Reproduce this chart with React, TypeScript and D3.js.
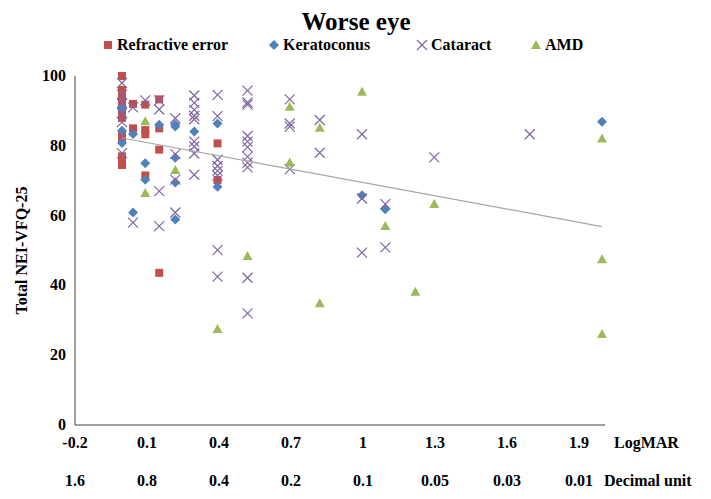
import { useEffect } from "react";
import * as d3 from "d3";

// LogMAR values of the visual acuity steps used in the study
// (decimal 1.0, 0.9, 0.8, 0.7, 0.6, 0.5, 0.4, 0.3, 0.2, 0.15, 0.1, 0.08, 0.06, 0.05, 0.02, 0.01)
const refractiveError: [number, number][] = [
  [0, 100], [0, 96], [0, 95], [0, 94], [0, 92], [0, 91], [0, 89], [0, 88],
  [0, 83], [0, 82], [0, 77], [0, 75.5], [0, 74.5],
  [0.046, 92], [0.046, 85],
  [0.097, 91.8], [0.097, 84.5], [0.097, 83.3], [0.097, 71.5],
  [0.155, 93.3], [0.155, 85], [0.155, 78.9], [0.155, 43.6],
  [0.398, 80.7], [0.398, 70.2],
];

const keratoconus: [number, number][] = [
  [0, 90.6], [0, 84.3], [0, 80.8],
  [0.046, 83.4], [0.046, 60.9],
  [0.097, 75], [0.097, 70.3],
  [0.155, 86],
  [0.222, 86.1], [0.222, 85.5], [0.222, 76.6], [0.222, 69.5], [0.222, 58.9],
  [0.301, 84.1],
  [0.398, 86.4], [0.398, 68.3],
  [1.0, 65.8],
  [1.097, 61.8],
  [2.0, 86.9],
];

const cataract: [number, number][] = [
  [0, 98], [0, 94.6], [0, 92.3], [0, 89.4], [0, 86.8], [0, 77.9],
  [0.046, 91], [0.046, 58],
  [0.097, 93],
  [0.155, 93], [0.155, 90.4], [0.155, 67], [0.155, 57],
  [0.222, 87.9], [0.222, 77.6], [0.222, 70.3], [0.222, 60.9],
  [0.301, 94.4], [0.301, 92.3], [0.301, 90.3], [0.301, 88.6], [0.301, 87.6],
  [0.301, 81.2], [0.301, 79.8], [0.301, 77.8], [0.301, 71.7],
  [0.398, 94.6], [0.398, 88.5], [0.398, 76], [0.398, 74.2], [0.398, 72.8],
  [0.398, 71.5], [0.398, 50.1], [0.398, 42.5],
  [0.523, 95.8], [0.523, 92.4], [0.523, 91.8], [0.523, 82.8], [0.523, 81.2],
  [0.523, 79.6], [0.523, 76.9], [0.523, 75.2], [0.523, 73.8], [0.523, 42.2],
  [0.523, 32],
  [0.699, 93.3], [0.699, 86.4], [0.699, 85.5], [0.699, 73.3],
  [0.824, 87.4], [0.824, 78],
  [1.0, 83.3], [1.0, 64.9], [1.0, 49.4],
  [1.097, 63.3], [1.097, 50.9],
  [1.301, 76.7],
  [1.699, 83.3],
];

const amd: [number, number][] = [
  [0.097, 87], [0.097, 66.5],
  [0.222, 73.1],
  [0.398, 27.5],
  [0.523, 48.4],
  [0.699, 91.2], [0.699, 75.2],
  [0.824, 85.2], [0.824, 34.9],
  [1.0, 95.5],
  [1.097, 57],
  [1.222, 38.2],
  [1.301, 63.3],
  [2.0, 82.1], [2.0, 47.5], [2.0, 26.1],
];

const logMarTicks = [-0.2, 0.1, 0.4, 0.7, 1, 1.3, 1.6, 1.9];
const decimalLabels = ["1.6", "0.8", "0.4", "0.2", "0.1", "0.05", "0.03", "0.01"];
const yTicks = [0, 20, 40, 60, 80, 100];

const legendItems = [
  { name: "Refractive error", shape: "square" },
  { name: "Keratoconus", shape: "diamond" },
  { name: "Cataract", shape: "cross" },
  { name: "AMD", shape: "triangle" },
];

const colors: Record<string, string> = {
  square: "#C0504D",
  diamond: "#4F81BD",
  cross: "#8064A2",
  triangle: "#9BBB59",
};

const FONT = "'Liberation Serif', 'Times New Roman', serif";

function Marker({ shape, cx, cy }: { shape: string; cx: number; cy: number }) {
  const c = colors[shape];
  if (shape === "square") {
    return <rect x={cx - 4} y={cy - 4} width={8} height={8} fill={c} />;
  }
  if (shape === "diamond") {
    return (
      <path
        d={`M${cx},${cy - 5}L${cx + 5},${cy}L${cx},${cy + 5}L${cx - 5},${cy}Z`}
        fill={c}
      />
    );
  }
  if (shape === "triangle") {
    return (
      <path
        d={`M${cx},${cy - 5}L${cx + 5},${cy + 4}L${cx - 5},${cy + 4}Z`}
        fill={c}
      />
    );
  }
  return (
    <path
      d={`M${cx - 5},${cy - 5}L${cx + 5},${cy + 5}M${cx - 5},${cy + 5}L${cx + 5},${cy - 5}`}
      stroke={c}
      strokeWidth={1.2}
      fill="none"
    />
  );
}

export default function App() {
  useEffect(() => {
    document.body.style.margin = "0";
  }, []);

  const width = 711;
  const height = 499;
  const x = d3.scaleLinear().domain([-0.2, 2.0]).range([74, 602]);
  const y = d3.scaleLinear().domain([0, 100]).range([425, 76]);

  const series = [
    { data: refractiveError, shape: "square" },
    { data: keratoconus, shape: "diamond" },
    { data: cataract, shape: "cross" },
    { data: amd, shape: "triangle" },
  ];

  // linear trend over all points
  const all = series.flatMap((s) => s.data);
  const mx = d3.mean(all, (d) => d[0]) as number;
  const my = d3.mean(all, (d) => d[1]) as number;
  const sxy = d3.sum(all, (d) => (d[0] - mx) * (d[1] - my));
  const sxx = d3.sum(all, (d) => (d[0] - mx) ** 2);
  const slope = sxy / sxx;
  const intercept = my - slope * mx;
  const [x0, x1] = d3.extent(all, (d) => d[0]) as [number, number];

  const legendX = [104, 270, 418, 532];

  return (
    <svg
      width={width}
      height={height}
      style={{ display: "block", background: "#fff" }}
      fontFamily={FONT}
      fontWeight="bold"
    >
      <text x={356} y={30} textAnchor="middle" fontSize={25}>
        Worse eye
      </text>

      {legendItems.map((l, i) => (
        <g key={l.name}>
          <Marker shape={l.shape} cx={legendX[i] + 4} cy={45} />
          <text x={legendX[i] + 13} y={50} fontSize={16}>
            {l.name}
          </text>
        </g>
      ))}

      <text
        transform={`translate(27,${(y(0) + y(100)) / 2}) rotate(-90)`}
        textAnchor="middle"
        fontSize={16}
      >
        Total NEI-VFQ-25
      </text>

      {yTicks.map((t) => (
        <text key={t} x={66} y={y(t) + 5} textAnchor="end" fontSize={16}>
          {t}
        </text>
      ))}

      {logMarTicks.map((t, i) => (
        <g key={t}>
          <text x={x(t) + 1} y={448} textAnchor="middle" fontSize={16}>
            {t}
          </text>
          <text x={x(t) + 1} y={486} textAnchor="middle" fontSize={16}>
            {decimalLabels[i]}
          </text>
        </g>
      ))}
      <text x={614} y={448} fontSize={16}>
        LogMAR
      </text>
      <text x={604} y={486} fontSize={16}>
        Decimal unit
      </text>

      <line
        x1={x(-0.2) + 1}
        x2={x(-0.2) + 1}
        y1={y(100)}
        y2={y(0)}
        stroke="#404040"
        strokeWidth={1}
      />
      <line
        x1={x(-0.2) + 1}
        x2={605}
        y1={y(0)}
        y2={y(0)}
        stroke="#404040"
        strokeWidth={1}
      />

      {series.map((s) =>
        s.data.map((d, i) => (
          <Marker key={s.shape + i} shape={s.shape} cx={x(d[0])} cy={y(d[1])} />
        ))
      )}

      <line
        x1={x(x0)}
        y1={y(intercept + slope * x0)}
        x2={x(x1)}
        y2={y(intercept + slope * x1)}
        stroke="#A6A6A6"
        strokeWidth={1.2}
      />
    </svg>
  );
}
